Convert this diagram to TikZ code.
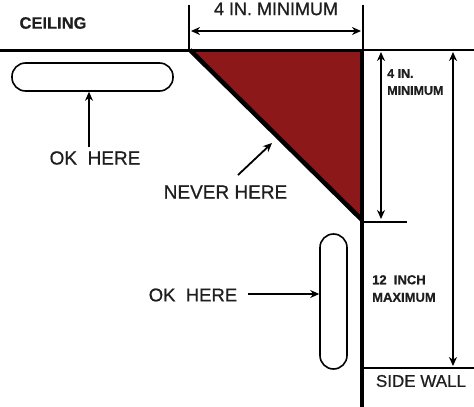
\documentclass[tikz,border=0pt]{standalone}
\usepackage{fontspec}
\setmainfont{Liberation Sans}
\newfontfamily\medfont[FakeBold=0.7]{Liberation Sans}
\newfontfamily\heavyfont[FakeBold=0.5]{Liberation Sans Bold}
\usetikzlibrary{arrows.meta}
\definecolor{wallred}{RGB}{140,24,26}
\definecolor{ink}{RGB}{30,30,30}
\tikzset{
  dimline/.style={line width=1.8pt, {Stealth[length=9pt,width=8pt]}-{Stealth[length=9pt,width=8pt]}},
  onearrow/.style={line width=1.8pt, -{Stealth[length=9pt,width=8pt]}},
  thin line/.style={line width=1.6pt},
  pill/.style={draw, line width=1.6pt, inner sep=0pt},
  lbl/.style={inner sep=0pt, text=ink, font=\medfont\fontsize{19}{21}\selectfont},
  smalllbl/.style={inner sep=0pt, text=ink, font=\heavyfont\fontsize{12.5}{17}\selectfont, align=left},
}
\begin{document}
\begin{tikzpicture}[x=1pt,y=-1pt]
\useasboundingbox (0,0) rectangle (474,407);
% key points
\coordinate (c0) at (0,50);
\coordinate (tl) at (190,50);
\coordinate (tr) at (362,50);
\coordinate (tb) at (362,220);
\coordinate (ce) at (474,50);
\coordinate (wb) at (362,407);
% triangle
\fill[wallred] (tl) -- (tr) -- (tb) -- cycle;
\draw[line width=4.5pt] (tl) -- (tb);
% ceiling
\draw[line width=3pt] (c0) -- (tr);
\draw[line width=1.8pt] (tr) -- (ce);
% side wall
\draw[line width=3.5pt] (tr) -- (wb);
% top dimension
\coordinate (t1) at (189,5);
\coordinate (t2) at (363,5);
\draw[thin line] (t1) -- (t1 |- tl);
\draw[thin line] (t2) -- (t2 |- tr);
\coordinate (d1) at (191,31);
\coordinate (d2) at (361,31);
\draw[dimline] (d1) -- (d2);
\node[lbl, font=\medfont\fontsize{18}{20}\selectfont] (top) at (276,9) {4 IN. MINIMUM};
\node[inner sep=0pt, text=ink, font=\heavyfont\fontsize{16.5}{18}\selectfont] (ceil) at (53,23) {CEILING};
% horizontal pill
\node[pill, rounded corners=13.5pt, minimum width=161pt, minimum height=28pt] (pillh) at (92.5,77) {};
\node[lbl] (ok1) at (95,158) {OK\ \ HERE};
\coordinate (a1) at (89,147);
\draw[onearrow] (a1) -- (a1 |- pillh.south);
% never here
\node[lbl] (never) at (225.5,192) {NEVER HERE};
\coordinate (n1) at (238,175);
\coordinate (n2) at (272,143);
\draw[onearrow] (n1) -- (n2);
% vertical pill
\node[pill, rounded corners=13.5pt, minimum width=27pt, minimum height=135pt] (pillv) at (333.5,301.5) {};
\node[lbl, font=\medfont\fontsize{18.5}{20}\selectfont] (ok2) at (193,295) {OK\ \ HERE};
\coordinate (a2) at (248,294);
\draw[onearrow] (a2) -- (a2 -| pillv.west);
% right 4 in dimension
\coordinate (r1) at (407,222);
\draw[thin line] (tb) ++(0,2) -- (r1);
\coordinate (v1) at (381,52);
\coordinate (v2) at (381,219);
\draw[dimline] (v1) -- (v2);
\node[smalllbl, anchor=north west] (four) at (387,69) {4 IN.\\MINIMUM};
% 12 inch maximum
\coordinate (s1) at (474,368);
\draw[thin line] (tb |- s1) -- (s1);
\coordinate (b1) at (453,52);
\coordinate (b2) at (453,366);
\draw[dimline] (b1) -- (b2);
\node[smalllbl, font=\heavyfont\fontsize{13}{17.5}\selectfont, anchor=north west] (twelve) at (372,275) {12\ \ INCH\\MAXIMUM};
\node[inner sep=0pt, text=ink, font=\medfont\fontsize{17}{19}\selectfont] (side) at (421,381) {SIDE WALL};
\end{tikzpicture}
\end{document}
